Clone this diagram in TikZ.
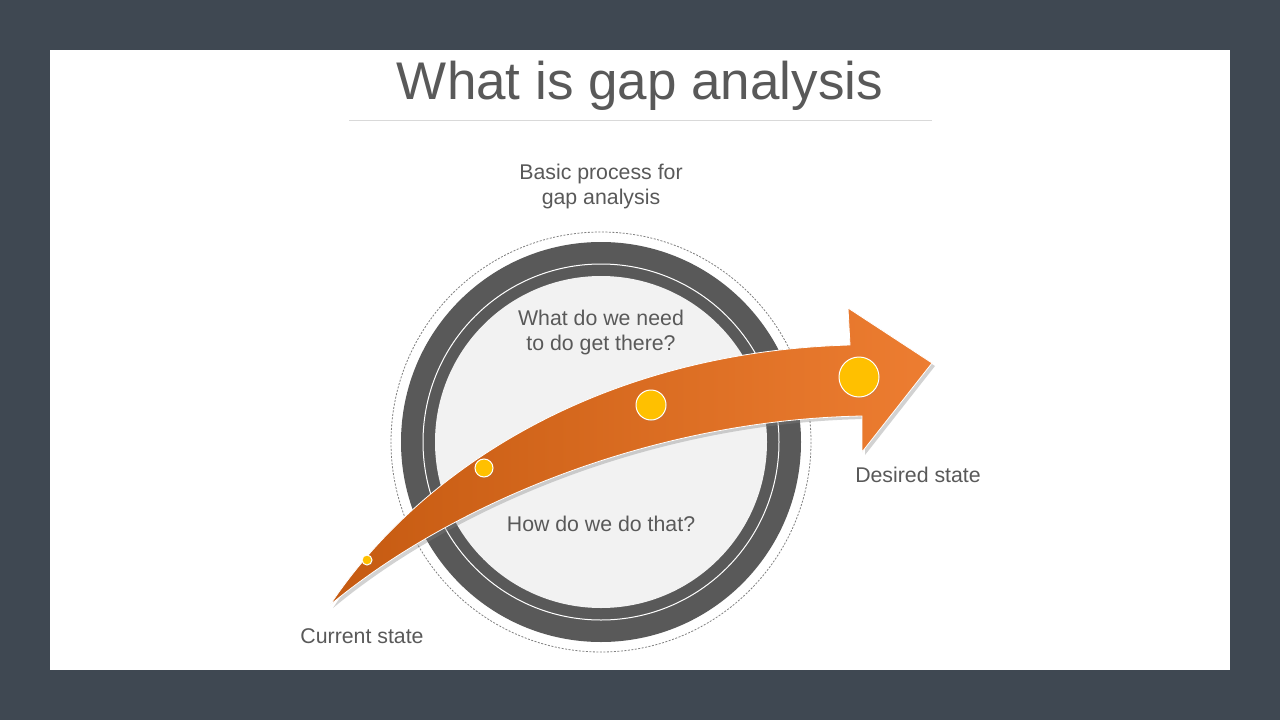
\documentclass[tikz,border=0pt]{standalone}
\usepackage{fontspec}
\setmainfont{Liberation Sans}
\usetikzlibrary{shadows}
\definecolor{bgdark}{HTML}{3F4852}
\definecolor{txtgray}{HTML}{595959}
\definecolor{ringgray}{HTML}{595959}
\definecolor{innerfill}{HTML}{F2F2F2}
\definecolor{orangeA}{HTML}{C55A11}
\definecolor{orangeB}{HTML}{ED7D31}
\definecolor{dotgold}{HTML}{FFC000}
\tikzset{
  lbl/.style={text=txtgray, font=\fontsize{21.3}{25}\selectfont, align=center},
  dot/.style={circle, fill=dotgold, draw=white, line width=1pt, inner sep=0pt, drop shadow={opacity=0.25, shadow xshift=1pt, shadow yshift=-1pt}},
}
\begin{document}
\begin{tikzpicture}[x=1pt,y=-1pt]
\useasboundingbox (0,0) rectangle (1280,720);
\fill[bgdark] (0,0) rectangle (1280,720);
\fill[white] (50,50) rectangle (1230,670);
% title
\node[text=txtgray, font=\fontsize{53}{60}\selectfont] (title) at (640,86) {What is gap analysis};
\draw[black!15, line width=0.8pt] (349,120) -- (932,120);
% circle
\coordinate (c) at (601,442);
\draw[gray, dash pattern=on 2pt off 1.5pt, line width=0.8pt] (c) circle[radius=210];
\fill[ringgray] (c) circle[radius=200];
\fill[innerfill] (c) circle[radius=166];
\draw[white, line width=1pt] (c) circle[radius=178];
% texts
\node[lbl] (basic) at (601,186) {Basic process for\\gap analysis};
\node[lbl] (need) at (601,332) {What do we need\\to do get there?};
\node[lbl] (how) at (601,524) {How do we do that?};
\node[lbl] (desired) at (918,475) {Desired state};
\node[lbl] (current) at (362,636) {Current state};
% arrow
\path[draw=white, line width=0.8pt, left color=orangeA, right color=orangeB,
  drop shadow={opacity=0.35, shadow xshift=3pt, shadow yshift=-3pt}]
  (330,605) .. controls (420,470) and (600,352) .. (850,345)
  -- (848,308) -- (932,363) -- (862,452) -- (862,416)
  .. controls (650,420) and (450,505) .. (330,605) -- cycle;
% dots
\node[dot, minimum size=10pt] (d1) at (367,560) {};
\node[dot, minimum size=18pt] (d2) at (484,468) {};
\node[dot, minimum size=30pt] (d3) at (651,405) {};
\node[dot, minimum size=40pt] (d4) at (859,377) {};
\end{tikzpicture}
\end{document}
